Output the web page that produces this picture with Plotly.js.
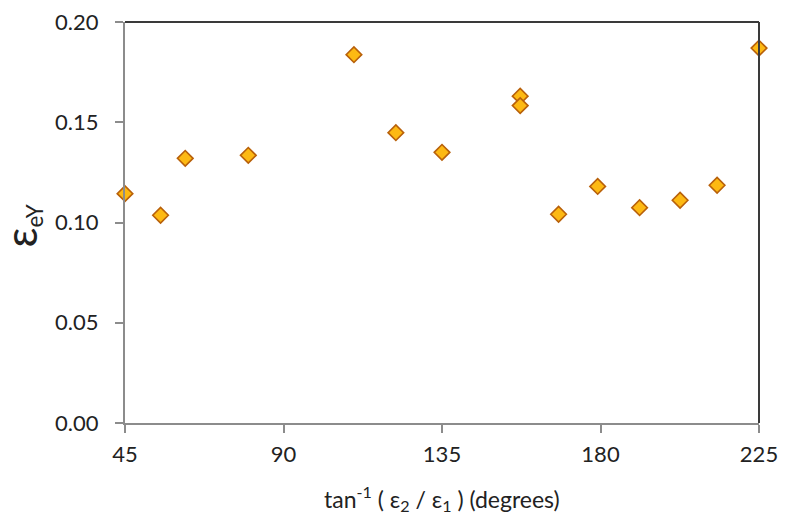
<!DOCTYPE html>
<html>
<head>
<meta charset="utf-8">
<script src="https://cdn.plot.ly/plotly-3.0.1.min.js"></script>
<style>html,body{margin:0;padding:0;background:#fff;}#chart{width:796px;height:519px;}</style>
</head>
<body>
<div id="chart"></div>
<script>
const angleDeg = [45, 55.1, 62.1, 80.0, 110.0, 121.9, 135.0, 157.2, 157.2, 168.1, 179.2, 191.1, 202.6, 213.1, 225];
const strainEY = [0.1144, 0.1036, 0.132, 0.1335, 0.1837, 0.1448, 0.135, 0.163, 0.1583, 0.1041, 0.118, 0.1074, 0.1111, 0.1186, 0.187];
const xTicks = [45, 90, 135, 180, 225];
const yTicks = [0, 0.05, 0.10, 0.15, 0.20];
const xTitle = 'tan<sup>-1</sup> ( ε<sub>2</sub> / ε<sub>1</sub> ) (degrees)';
const yTitle = "<span style='font-size:44px'>ε</span><sub>eY</sub>";

const FONT = 'Lato, "Open Sans", sans-serif';

const trace = {
  x: angleDeg, y: strainEY, type: 'scatter', mode: 'markers',
  marker: {symbol: 'diamond', size: 12, color: '#FDB913', line: {color: '#B8600A', width: 1.6}},
  cliponaxis: false, hoverinfo: 'none'
};

const layout = {
  width: 796, height: 519,
  margin: {l: 125, r: 37, t: 22, b: 96},
  paper_bgcolor: '#fff', plot_bgcolor: '#fff',
  showlegend: false,
  font: {family: FONT, color: '#222'},
  xaxis: {
    range: [45, 225], tickvals: xTicks, ticktext: xTicks.map(String),
    showgrid: false, zeroline: false, showline: true, linecolor: '#8c8c8c', linewidth: 2,
    ticks: 'outside', ticklen: 8, tickwidth: 2, tickcolor: '#8c8c8c',
    ticklabelstandoff: 3,
    tickfont: {size: 22, family: FONT, color: '#222'}
  },
  yaxis: {
    range: [0, 0.2], tickvals: yTicks, ticktext: yTicks.map(v => v.toFixed(2)),
    showgrid: false, zeroline: false, showline: true, linecolor: '#8c8c8c', linewidth: 2,
    ticks: 'outside', ticklen: 8, tickwidth: 2, tickcolor: '#8c8c8c',
    ticklabelstandoff: 12,
    tickfont: {size: 22, family: FONT, color: '#222'}
  },
  annotations: [
    {text: xTitle, xref: 'paper', yref: 'paper', x: 0.5, y: 0, xanchor: 'center', yanchor: 'middle',
     yshift: -75, showarrow: false, font: {size: 23, family: FONT, color: '#222'}},
    {text: yTitle, xref: 'paper', yref: 'paper', x: 0, y: 0.5, xanchor: 'center', yanchor: 'middle',
     xshift: -104, yshift: -4, textangle: -90, showarrow: false, font: {size: 32, family: FONT, color: '#222'}}
  ],
  shapes: [
    {type: 'line', xref: 'paper', yref: 'paper', x0: 0, x1: 1, y0: 1, y1: 1, line: {color: '#3a3a3a', width: 2}},
    {type: 'line', xref: 'paper', yref: 'paper', x0: 1, x1: 1, y0: 0, y1: 1, line: {color: '#3a3a3a', width: 2}}
  ]
};

Plotly.newPlot('chart', [trace], layout, {displayModeBar: false, staticPlot: true});
</script>
</body>
</html>
